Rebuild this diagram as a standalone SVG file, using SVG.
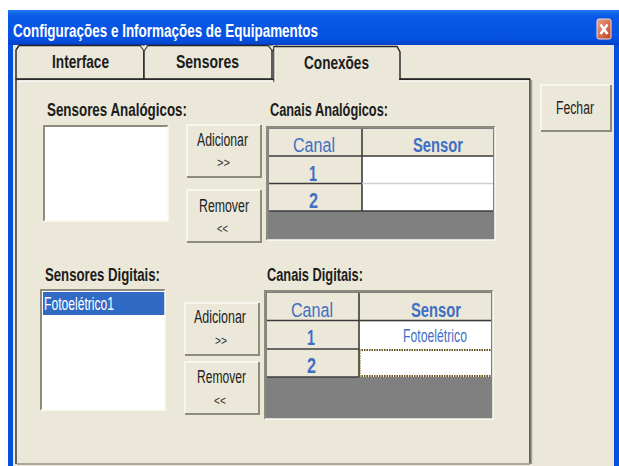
<svg xmlns="http://www.w3.org/2000/svg" width="619" height="466" viewBox="0 0 619 466">
<defs>
<linearGradient id="tb" x1="0" y1="0" x2="0" y2="1"><stop offset="0" stop-color="#1f7cf0"/><stop offset="0.15" stop-color="#0a5ae6"/><stop offset="0.85" stop-color="#0550e0"/><stop offset="1" stop-color="#0340c8"/></linearGradient>
<linearGradient id="xb" x1="0" y1="0" x2="1" y2="1"><stop offset="0" stop-color="#eba58c"/><stop offset="1" stop-color="#c23d1c"/></linearGradient>
</defs>
<style>
text{font-family:"Liberation Sans",Arial,sans-serif}
.bg{fill:#ebe8d9}
.h{font-size:18px;font-weight:bold;fill:#1c1c1c}
.b{font-size:18px;fill:#222}
.s{font-size:13px;fill:#333}
.c{font-size:22px;font-weight:bold;fill:#3f6fc4}
.c2{font-size:20px;font-weight:bold;fill:#3f6fc4}
.c3{font-size:20px;fill:#3f6fc4}
.ln{stroke:#3c3c3c;stroke-width:1.6;fill:none}
.btn{fill:#ebe8d9;stroke:none}
.hi{stroke:#fbfaf3;stroke-width:1.5;fill:none}
.sh{stroke:#8d8b7c;stroke-width:2;fill:none}
.tab{stroke:#222;stroke-width:1.4;fill:#ebe8d9}
</style>
<rect width="619" height="466" fill="#fff"/>
<g id="window">
<rect x="8" y="10" width="611" height="456" fill="#0450de"/>
<rect x="8" y="10" width="611" height="35" fill="url(#tb)"/>
<rect x="13" y="45" width="601" height="421" class="bg"/>
<text x="13" y="37" font-size="18" font-weight="bold" fill="#fff" textLength="305" lengthAdjust="spacingAndGlyphs">Configurações e Informações de Equipamentos</text>
<rect x="597" y="19" width="14" height="20" rx="2" fill="url(#xb)" stroke="#f3d9cf" stroke-width="1"/>
<path d="M600.500 24.500L607.500 34M607.500 24.500L600.500 34" stroke="#fff" stroke-width="2.600" fill="none"/>
</g>
<g id="tabs">
<path d="M16 79V50L19 45.500H144V79Z" class="tab"/>
<path d="M144 79V50L147 45.500H272V79Z" class="tab"/>
<path d="M140 45.500L144 51L148 45.500M268 45.500L272.500 51L277 45.500" fill="#ebe8d9" stroke="#444" stroke-width="1.200"/>
<path d="M16 464V79.500H530V464" fill="#ebe8d9" stroke="#2c2c2c" stroke-width="1.400"/>
<path d="M17.500 81H529" stroke="#fbfaf3" stroke-width="1.500"/>
<path d="M531.500 80V464" stroke="#a3a194" stroke-width="1.500"/>
<path d="M17 464H530" stroke="#a9a799" stroke-width="2"/>
<rect x="274" y="47" width="125" height="36" class="bg"/>
<path d="M274 82V46.500H397L400 52V79H530" fill="none" stroke="#222" stroke-width="1.400"/>
<path d="M275 47.500V82" stroke="#fbfaf3" stroke-width="1.200"/>
<text x="52" y="68" class="h" textLength="57" lengthAdjust="spacingAndGlyphs">Interface</text>
<text x="176" y="68" class="h" textLength="63" lengthAdjust="spacingAndGlyphs">Sensores</text>
<text x="304" y="69" class="h" textLength="65" lengthAdjust="spacingAndGlyphs">Conexões</text>
</g>
<g id="close-button">
<rect x="541" y="85" width="70" height="46" class="btn"/>
<path d="M541 131V85H611" class="hi"/><path d="M541 131H611V85" class="sh"/>
<text x="556" y="114" class="b" textLength="38" lengthAdjust="spacingAndGlyphs">Fechar</text>
</g>
<g id="analog-list">
<text x="47" y="116" class="h" textLength="140" lengthAdjust="spacingAndGlyphs">Sensores Analógicos:</text>
<rect x="44" y="126" width="124" height="95" fill="#fff"/>
<path d="M44 221V126H168" class="sh"/><path d="M44 221H168V126" class="hi"/>
</g>
<g id="analog-add">
<rect x="187" y="125" width="74" height="52" class="btn"/>
<path d="M187 177V125H261" class="hi"/><path d="M187 177H261V125" class="sh"/>
<text x="197" y="146" class="b" textLength="51" lengthAdjust="spacingAndGlyphs">Adicionar</text><text x="217" y="167" class="s" textLength="13" lengthAdjust="spacingAndGlyphs">&gt;&gt;</text>
</g>
<g id="analog-remove">
<rect x="187" y="190" width="74" height="52" class="btn"/>
<path d="M187 242V190H261" class="hi"/><path d="M187 242H261V190" class="sh"/>
<text x="199" y="212" class="b" textLength="50" lengthAdjust="spacingAndGlyphs">Remover</text><text x="217" y="233" class="s" textLength="11" lengthAdjust="spacingAndGlyphs">&lt;&lt;</text>
</g>
<g id="analog-grid">
<text x="270" y="116" class="h" textLength="118" lengthAdjust="spacingAndGlyphs">Canais Analógicos:</text>
<rect x="267" y="127" width="228" height="113" fill="#808080"/>
<rect x="269" y="129" width="224" height="82" class="bg"/>
<rect x="362" y="157" width="131" height="54" fill="#fff"/>
<path d="M267 240V127H495" class="sh"/>
<path d="M267 240H495V127" class="hi"/>
<path class="ln" d="M269 156H493M269 183.500H362M362 129V211M269 211H493"/>
<path d="M362 183.500H493" stroke="#cfcfcf" stroke-width="1.500"/>
<text x="293" y="152" class="c3" textLength="42" lengthAdjust="spacingAndGlyphs">Canal</text>
<text x="413" y="152" class="c2" textLength="50" lengthAdjust="spacingAndGlyphs">Sensor</text>
<text x="309" y="181" class="c" textLength="8" lengthAdjust="spacingAndGlyphs">1</text><text x="309" y="208" class="c" textLength="9" lengthAdjust="spacingAndGlyphs">2</text>
</g>
<g id="digital-list">
<text x="45" y="281" class="h" textLength="115" lengthAdjust="spacingAndGlyphs">Sensores Digitais:</text>
<rect x="41" y="290" width="124" height="120" fill="#fff"/>
<rect x="43" y="292" width="122" height="23" fill="#316ac5"/>
<path d="M41 410V290H165" class="sh"/><path d="M41 410H165V290" class="hi"/>
<text x="44" y="310" font-size="18" fill="#fff" textLength="70" lengthAdjust="spacingAndGlyphs">Fotoelétrico1</text>
</g>
<g id="digital-add">
<rect x="185" y="303" width="74" height="52" class="btn"/>
<path d="M185 355V303H259" class="hi"/><path d="M185 355H259V303" class="sh"/>
<text x="194" y="323" class="b" textLength="52" lengthAdjust="spacingAndGlyphs">Adicionar</text><text x="215" y="345" class="s" textLength="12" lengthAdjust="spacingAndGlyphs">&gt;&gt;</text>
</g>
<g id="digital-remove">
<rect x="185" y="362" width="74" height="52" class="btn"/>
<path d="M185 414V362H259" class="hi"/><path d="M185 414H259V362" class="sh"/>
<text x="197" y="383" class="b" textLength="49" lengthAdjust="spacingAndGlyphs">Remover</text><text x="214" y="405" class="s" textLength="12" lengthAdjust="spacingAndGlyphs">&lt;&lt;</text>
</g>
<g id="digital-grid">
<text x="267" y="281" class="h" textLength="96" lengthAdjust="spacingAndGlyphs">Canais Digitais:</text>
<rect x="265" y="291" width="228" height="128" fill="#808080"/>
<rect x="267" y="293" width="224" height="84" class="bg"/>
<rect x="359" y="322" width="132" height="55" fill="#fff"/>
<path d="M265 419V291H493" class="sh"/>
<path d="M265 419H493V291" class="hi"/>
<path class="ln" d="M267 320.500H491M267 349H359M359 293V377M267 377H359"/>
<path d="M359 350H491M359 376H491M359.500 350V376" stroke="#6b5320" stroke-width="2" stroke-dasharray="1.500 1" fill="none"/>
<text x="291" y="317" class="c3" textLength="42" lengthAdjust="spacingAndGlyphs">Canal</text>
<text x="411" y="317" class="c2" textLength="50" lengthAdjust="spacingAndGlyphs">Sensor</text>
<text x="307" y="345" class="c" textLength="8" lengthAdjust="spacingAndGlyphs">1</text><text x="307" y="373" class="c" textLength="9" lengthAdjust="spacingAndGlyphs">2</text>
<text x="403" y="342" font-size="18" fill="#3f6fc4" textLength="64" lengthAdjust="spacingAndGlyphs">Fotoelétrico</text>
</g>
</svg>
